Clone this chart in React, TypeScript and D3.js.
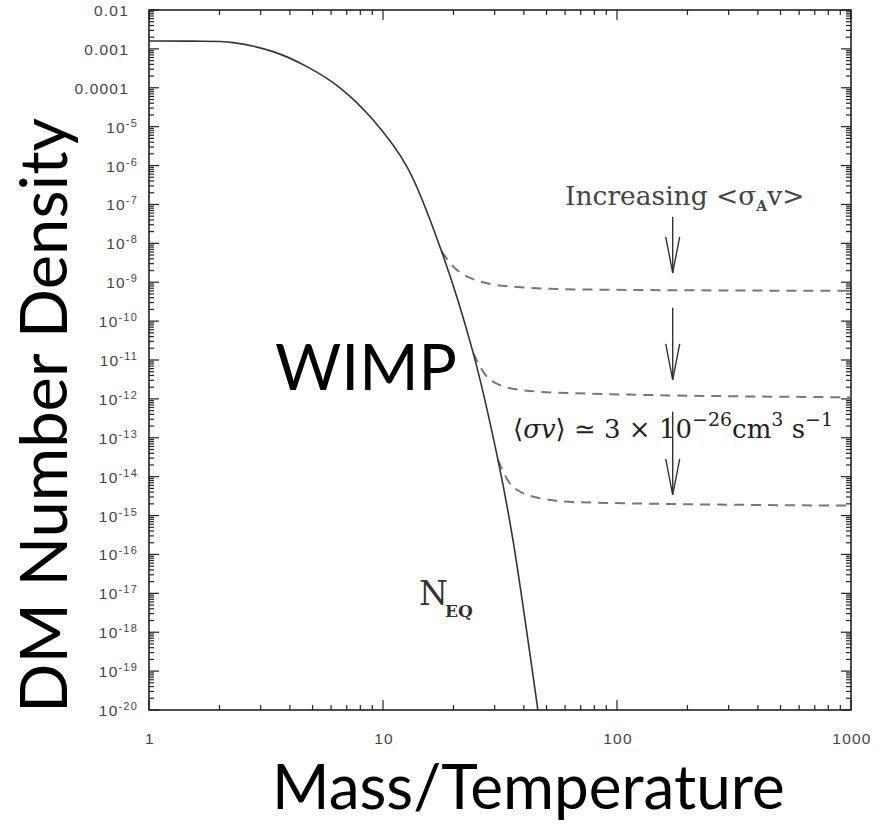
import React from "react";
import * as d3 from "d3";

// ---- data ----
const xTickValues = [1, 10, 100, 1000];
const xTickLabels = ["1", "10", "100", "1000"];
const yExponents = [-2, -3, -4, -5, -6, -7, -8, -9, -10, -11, -12, -13, -14, -15, -16, -17, -18, -19, -20];
const yPlainLabels: Record<number, string> = { [-2]: "0.01", [-3]: "0.001", [-4]: "0.0001" };

// Equilibrium curve (solid)
const eqX = [1, 1.5, 2.29, 3.39, 4.73, 6.55, 9.06, 12.7, 17.8, 24.3, 31.0, 35.9, 45.9];
const eqY = [1.6e-3, 1.58e-3, 1.45e-3, 8.5e-4, 3.5e-4, 1e-4, 1.5e-5, 9e-7, 6.2e-9, 1.5e-11, 2.7e-14, 2.4e-16, 1e-20];

// Freeze-out curves (dashed)
const fo1X = [17.8, 20.3, 22.9, 33.9, 69.5, 1000];
const fo1Y = [6.2e-9, 2.3e-9, 1.4e-9, 7.9e-10, 6.5e-10, 6.0e-10];
const fo2X = [24.3, 28.7, 38.5, 64.9, 1000];
const fo2Y = [1.5e-11, 3.1e-12, 1.7e-12, 1.4e-12, 1.1e-12];
const fo3X = [31.0, 35.9, 46.9, 67.5, 1000];
const fo3Y = [2.7e-14, 5.5e-15, 2.8e-15, 2.2e-15, 1.8e-15];

// Arrows (x position, y start, y end) in data units
const arrowX = 173;
const arrowY0 = [4.8e-8, 2.2e-10, 4.7e-13];
const arrowY1 = [1.75e-9, 3.1e-12, 3.4e-15];

const W = 885, H = 827;
const L = 149, R = 851, T = 10, B = 710;

export default function App() {
  const x = d3.scaleLog().domain([1, 1000]).range([L, R]);
  const y = d3.scaleLog().domain([1e-20, 1e-2]).range([B, T]);

  const lineSmooth = d3.line<[number, number]>()
    .x((d) => x(d[0]))
    .y((d) => y(d[1]))
    .curve(d3.curveCatmullRom.alpha(0.5));
  const lineMono = d3.line<[number, number]>()
    .x((d) => x(d[0]))
    .y((d) => y(d[1]))
    .curve(d3.curveMonotoneX);

  const zip = (a: number[], b: number[]) => a.map((v, i) => [v, b[i]] as [number, number]);

  // ticks
  const yMinor: number[] = [];
  for (let e = -20; e < -2; e++) for (let k = 2; k <= 9; k++) yMinor.push(k * Math.pow(10, e));
  const xMinor: number[] = [];
  for (let e = 0; e < 3; e++) for (let k = 2; k <= 9; k++) xMinor.push(k * Math.pow(10, e));

  const tickColor = "#222";
  const majorLen = 10, minorLen = 5;
  const labelFont = "'Liberation Sans', Arial, sans-serif";

  return (
    <svg width={W} height={H} style={{ position: "absolute", left: 0, top: 0, background: "#fff" }}>
      <defs>
        <clipPath id="plotclip">
          <rect x={L} y={T} width={R - L} height={B - T} />
        </clipPath>
      </defs>
      {/* frame */}
      <rect x={L} y={T} width={R - L} height={B - T} fill="none" stroke="#222" strokeWidth={1.6} />

      {/* ticks */}
      <g stroke={tickColor} strokeWidth={1.2}>
        {yExponents.map((e) => {
          const yy = y(Math.pow(10, e));
          return (
            <g key={"ym" + e}>
              <line x1={L} x2={L + majorLen} y1={yy} y2={yy} />
              <line x1={R} x2={R - majorLen} y1={yy} y2={yy} />
            </g>
          );
        })}
        {yMinor.map((v, i) => {
          const yy = y(v);
          return (
            <g key={"yn" + i}>
              <line x1={L} x2={L + minorLen} y1={yy} y2={yy} />
              <line x1={R} x2={R - minorLen} y1={yy} y2={yy} />
            </g>
          );
        })}
        {xTickValues.map((v) => (
          <g key={"xm" + v}>
            <line x1={x(v)} x2={x(v)} y1={B} y2={B - majorLen} />
            <line x1={x(v)} x2={x(v)} y1={T} y2={T + majorLen} />
          </g>
        ))}
        {xMinor.map((v, i) => (
          <g key={"xn" + i}>
            <line x1={x(v)} x2={x(v)} y1={B} y2={B - minorLen} />
            <line x1={x(v)} x2={x(v)} y1={T} y2={T + minorLen} />
          </g>
        ))}
      </g>

      {/* y tick labels */}
      <g fontFamily={labelFont} fill="#444" fontSize={15.5} letterSpacing={1.2}>
        {yExponents.map((e) => {
          const yy = y(Math.pow(10, e)) + 6;
          if (yPlainLabels[e] !== undefined) {
            return (
              <text key={"yl" + e} x={129} y={yy} textAnchor="end">
                {yPlainLabels[e]}
              </text>
            );
          }
          return (
            <text key={"yl" + e} x={138} y={yy} textAnchor="end">
              10
              <tspan fontSize={11} dy={-6}>{"-" + String(-e)}</tspan>
            </text>
          );
        })}
      </g>

      {/* x tick labels */}
      <g fontFamily={labelFont} fill="#444" fontSize={15.5} letterSpacing={1.2} textAnchor="middle">
        {xTickValues.map((v, i) => (
          <text key={"xl" + v} x={x(v) + 1} y={744}>{xTickLabels[i]}</text>
        ))}
      </g>

      {/* curves */}
      <g clipPath="url(#plotclip)" fill="none">
        <path d={lineMono(zip(fo1X, fo1Y)) || ""} stroke="#777" strokeWidth={2} strokeDasharray="10,7" />
        <path d={lineMono(zip(fo2X, fo2Y)) || ""} stroke="#777" strokeWidth={2} strokeDasharray="10,7" />
        <path d={lineMono(zip(fo3X, fo3Y)) || ""} stroke="#777" strokeWidth={2} strokeDasharray="10,7" />
        <path d={lineSmooth(zip(eqX, eqY)) || ""} stroke="#333" strokeWidth={1.6} />
      </g>

      {/* arrows */}
      <g stroke="#333" strokeWidth={1.4} fill="none">
        {arrowY0.map((v, i) => {
          const ax = x(arrowX);
          const y0 = y(v);
          const y1 = y(arrowY1[i]);
          return (
            <g key={"ar" + i}>
              <line x1={ax} x2={ax} y1={y0} y2={y1} />
              <polyline points={`${ax - 7},${y1 - 36} ${ax},${y1} ${ax + 7},${y1 - 36}`} />
            </g>
          );
        })}
      </g>

      {/* annotations */}
      <text x={565} y={205} fontFamily="'DejaVu Serif', serif" fontSize={26.5} fill="#444">
        Increasing {"<σ"}
        <tspan fontSize={14} fontWeight="bold" dy={6}>A</tspan>
        <tspan dy={-6}>{"v>"}</tspan>
      </text>

      <text x={513} y={438} fontFamily="'DejaVu Serif', serif" fontSize={26} fill="#222">
        ⟨<tspan fontStyle="italic">σv</tspan>⟩ ≃ 3 × 10
        <tspan fontSize={19} dy={-12}>−26</tspan>
        <tspan dy={12}>cm</tspan>
        <tspan fontSize={19} dy={-12}>3</tspan>
        <tspan dy={12}> s</tspan>
        <tspan fontSize={19} dy={-12}>−1</tspan>
      </text>

      <text x={419} y={605} fontFamily="'DejaVu Serif', serif" fontSize={33} fill="#333">N</text>
      <text x={445} y={617} fontFamily="'DejaVu Serif', serif" fontSize={17} fontWeight="bold" fill="#333">EQ</text>

      <text x={275} y={390} fontFamily="Lato, 'Open Sans', sans-serif" fontSize={64} fill="#000">WIMP</text>

      <text
        transform={`translate(67, ${713}) rotate(-90)`}
        fontFamily="Lato, 'Open Sans', sans-serif"
        fontSize={65}
        fill="#000"
      >
        DM Number Density
      </text>

      <text x={272} y={809} fontFamily="Lato, 'Open Sans', sans-serif" fontSize={62} fill="#000">
        Mass/Temperature
      </text>
    </svg>
  );
}
